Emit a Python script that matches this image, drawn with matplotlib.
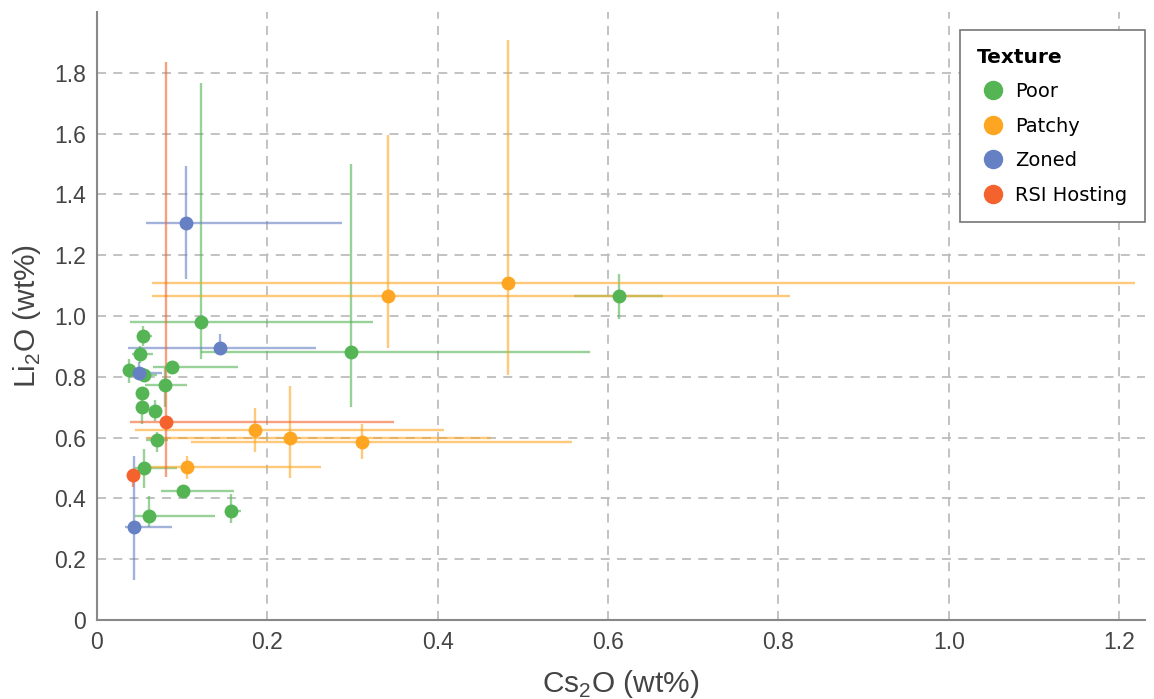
import numpy as np
import matplotlib.pyplot as plt
from matplotlib.lines import Line2D

plt.rcParams['mathtext.fontset'] = 'custom'
plt.rcParams['mathtext.rm'] = 'Liberation Sans'

# Texture groups: centre values and error-bar limits (wt%)
poor_x = [0.6125, 0.298, 0.1227, 0.0536, 0.0509, 0.0876, 0.0376, 0.0556, 0.0794,
          0.0533, 0.0533, 0.0677, 0.0704, 0.0556, 0.1016, 0.1575, 0.0614]
poor_y = [1.065, 0.880, 0.980, 0.934, 0.874, 0.833, 0.823, 0.805, 0.772,
          0.745, 0.701, 0.688, 0.591, 0.4985, 0.423, 0.3596, 0.341]
poor_xlo = [0.5597, 0.1227, 0.0388, 0.0487, 0.0407, 0.066, 0.031, 0.045, 0.0563,
            0.046, 0.048, 0.062, 0.058, 0.045, 0.0747, 0.15, 0.0446]
poor_xhi = [0.6645, 0.579, 0.324, 0.0642, 0.066, 0.1657, 0.0466, 0.070, 0.106,
            0.060, 0.058, 0.073, 0.083, 0.0934, 0.1605, 0.1696, 0.1383]
poor_ylo = [0.99, 0.70, 0.857, 0.901, 0.846, 0.814, 0.781, 0.785, 0.699,
            0.727, 0.644, 0.656, 0.551, 0.434, 0.40, 0.318, 0.305]
poor_yhi = [1.137, 1.50, 1.766, 0.967, 0.90, 0.841, 0.857, 0.83, 0.830,
            0.765, 0.732, 0.722, 0.617, 0.562, 0.445, 0.414, 0.409]

patchy_x = [0.4822, 0.3413, 0.1856, 0.2261, 0.311, 0.1055]
patchy_y = [1.109, 1.0667, 0.626, 0.598, 0.587, 0.502]
patchy_xlo = [0.0645, 0.0645, 0.0446, 0.0583, 0.110, 0.058]
patchy_xhi = [1.218, 0.8136, 0.407, 0.4626, 0.558, 0.263]
patchy_ylo = [0.806, 0.894, 0.554, 0.467, 0.529, 0.463]
patchy_yhi = [1.907, 1.595, 0.697, 0.770, 0.644, 0.541]

zoned_x = [0.1048, 0.145, 0.0493, 0.0431]
zoned_y = [1.306, 0.894, 0.813, 0.307]
zoned_xlo = [0.0575, 0.0368, 0.0427, 0.0329]
zoned_xhi = [0.2878, 0.2573, 0.0759, 0.0876]
zoned_ylo = [1.1225, 0.87, 0.797, 0.133]
zoned_yhi = [1.493, 0.94, 0.847, 0.538]

rsi_x = [0.0814, 0.0419]
rsi_y = [0.651, 0.4766]
rsi_xlo = [0.0384, 0.038]
rsi_xhi = [0.349, 0.046]
rsi_ylo = [0.469, 0.436]
rsi_yhi = [1.834, 0.492]

groups = [
    ('Poor', '#55b555', poor_x, poor_y, poor_xlo, poor_xhi, poor_ylo, poor_yhi),
    ('Patchy', '#fea622', patchy_x, patchy_y, patchy_xlo, patchy_xhi, patchy_ylo, patchy_yhi),
    ('Zoned', '#6680c4', zoned_x, zoned_y, zoned_xlo, zoned_xhi, zoned_ylo, zoned_yhi),
    ('RSI Hosting', '#f4622d', rsi_x, rsi_y, rsi_xlo, rsi_xhi, rsi_ylo, rsi_yhi),
]

fig = plt.figure(figsize=(11.54, 6.99), dpi=100)
ax = fig.add_axes([0.084, 0.113, 0.908, 0.870])

handles = []
for name, col, x, y, xlo, xhi, ylo, yhi in groups:
    x = np.array(x); y = np.array(y)
    xerr = [x - np.array(xlo), np.array(xhi) - x]
    yerr = [y - np.array(ylo), np.array(yhi) - y]
    ax.errorbar(x, y, xerr=xerr, yerr=yerr, fmt='none', ecolor=col,
                elinewidth=1.7, alpha=0.6, capsize=0, zorder=2)
    ax.plot(x, y, 'o', color=col, markersize=10, markeredgewidth=0, zorder=3)
    handles.append(Line2D([], [], marker='o', linestyle='none', color=col,
                          markersize=14, markeredgewidth=0, label=name))

ax.set_xlim(0, 1.23)
ax.set_ylim(0.01, 2.0)
ax.set_xticks([0, 0.2, 0.4, 0.6, 0.8, 1.0, 1.2])
ax.set_xticklabels(['0', '0.2', '0.4', '0.6', '0.8', '1.0', '1.2'])
ax.set_yticks([0.0, 0.2, 0.4, 0.6, 0.8, 1.0, 1.2, 1.4, 1.6, 1.8])
ax.set_yticklabels(['0', '0.2', '0.4', '0.6', '0.8', '1.0', '1.2', '1.4', '1.6', '1.8'])
ax.tick_params(length=0, labelsize=16.5, labelcolor='#444444', pad=8)
for lab in ax.get_xticklabels() + ax.get_yticklabels():
    lab.set_family('Liberation Sans')

ax.grid(True, color='#bdbdbd', linestyle=(0, (5, 4)), linewidth=1.3, zorder=0)
ax.set_axisbelow(True)
for s in ['top', 'right']:
    ax.spines[s].set_visible(False)
for s in ['left', 'bottom']:
    ax.spines[s].set_color('#888888')
    ax.spines[s].set_linewidth(1.5)

ax.set_xlabel('Cs$_2$O (wt%)', fontsize=21.5, color='#444444', family='Liberation Sans', labelpad=10)
ax.set_ylabel('Li$_2$O (wt%)', fontsize=21.5, color='#444444', family='Liberation Sans', labelpad=8)

leg = ax.legend(handles=handles, title='Texture', loc='upper right',
                bbox_to_anchor=(1.0, 0.970), borderaxespad=0, fontsize=14, title_fontsize=14.5,
                frameon=True, fancybox=False, edgecolor='#777777', framealpha=1,
                borderpad=0.9, labelspacing=0.8, handletextpad=0.35, handlelength=1.6)
leg.get_title().set_fontweight('bold')
leg._legend_box.align = 'left'
leg.get_frame().set_linewidth(1.2)

fig.savefig('out.png', dpi=100)
plt.close(fig)
